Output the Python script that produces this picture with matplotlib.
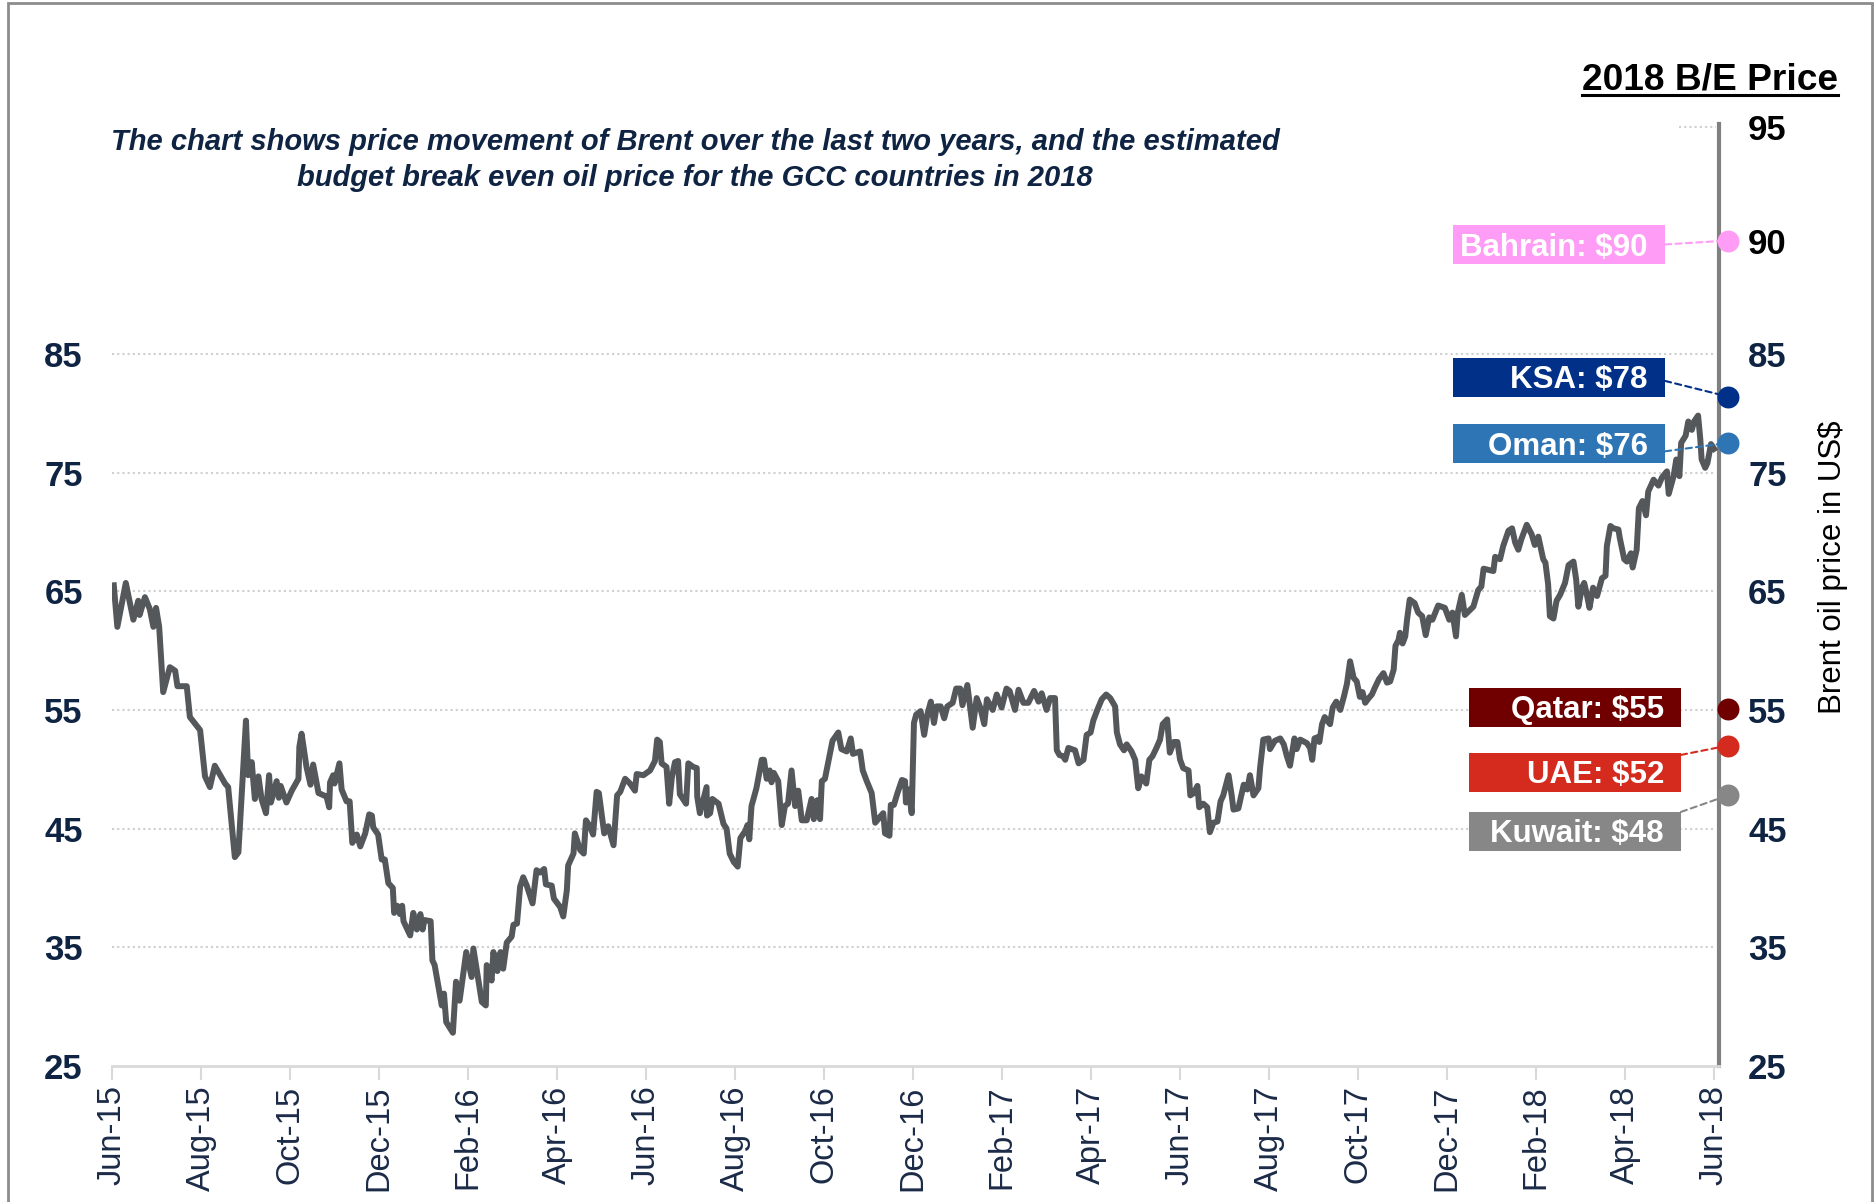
import numpy as np
import matplotlib
matplotlib.use('Agg')
import matplotlib.pyplot as plt
import matplotlib.transforms as mtransforms
from matplotlib.patches import Rectangle, ConnectionPatch
from matplotlib.lines import Line2D

plt.rcParams['font.family'] = ['Liberation Sans', 'DejaVu Sans']

# Brent price, x = months since 1 Jun 2015
month_pos = [
    0.04, 0.12, 0.31, 0.48, 0.59, 0.62, 0.74, 0.85, 0.93, 0.99, 1.06, 1.15, 1.30, 1.42, 1.47,
    1.68, 1.75, 1.98, 2.09, 2.20, 2.31, 2.54, 2.61, 2.76, 2.84, 3.01, 3.06, 3.14, 3.21, 3.29,
    3.36, 3.46, 3.53, 3.57, 3.70, 3.75, 3.79, 3.92, 4.04, 4.19, 4.21, 4.26, 4.37, 4.46, 4.52,
    4.64, 4.82, 4.88, 4.90, 4.97, 5.00, 5.11, 5.16, 5.27, 5.34, 5.40, 5.50, 5.58, 5.69, 5.78,
    5.84, 5.87, 5.98, 6.06, 6.13, 6.21, 6.31, 6.34, 6.41, 6.47, 6.52, 6.55, 6.70, 6.77, 6.85,
    6.93, 6.98, 7.02, 7.16, 7.20, 7.25, 7.41, 7.46, 7.51, 7.66, 7.73, 7.81,
    7.96, 8.08, 8.12, 8.31, 8.40, 8.42, 8.53, 8.57, 8.66, 8.73, 8.79, 8.87, 8.98, 9.02, 9.10,
    9.17, 9.24, 9.32, 9.45, 9.54, 9.62, 9.71, 9.75, 9.88, 9.93, 10.07, 10.14, 10.22, 10.25, 10.37,
    10.40, 10.52, 10.60, 10.65, 10.74, 10.81, 10.89, 10.94, 11.06, 11.15, 11.27, 11.35, 11.42, 11.53, 11.64,
    11.75, 11.79, 11.94, 12.09, 12.20, 12.25, 12.31, 12.35, 12.46, 12.52, 12.58, 12.65, 12.72, 12.76, 12.90,
    12.95, 13.06, 13.14, 13.15, 13.21, 13.36, 13.37, 13.44, 13.49, 13.63, 13.74, 13.81, 13.88, 13.97, 14.06,
    14.12, 14.23, 14.28, 14.32, 14.37, 14.48, 14.60, 14.65, 14.71, 14.78, 14.82, 14.87, 14.97, 15.05, 15.12,
    15.19, 15.27, 15.35, 15.42, 15.50, 15.61, 15.72, 15.77, 15.85, 15.91,
    15.95, 16.02, 16.10, 16.19, 16.32, 16.39, 16.51, 16.60, 16.65, 16.81, 16.87, 16.96, 17.07, 17.15, 17.26,
    17.33, 17.37, 17.47, 17.50, 17.57, 17.65, 17.75, 17.82, 17.84, 17.90, 17.97, 18.02, 18.07, 18.17, 18.25,
    18.32, 18.40, 18.47, 18.53, 18.62, 18.70, 18.77, 18.89, 18.97, 19.06, 19.11, 19.22, 19.28, 19.34, 19.43,
    19.51, 19.60, 19.66, 19.79, 19.88, 19.99, 20.10, 20.17, 20.29, 20.37, 20.48, 20.59, 20.72, 20.82, 20.89,
    21.00, 21.08, 21.19, 21.23, 21.29, 21.37, 21.42, 21.49, 21.64, 21.72, 21.83, 21.90, 21.99, 22.05, 22.14,
    22.24, 22.34, 22.43, 22.54, 22.58, 22.65, 22.74, 22.80, 22.91, 22.99, 23.06, 23.13, 23.24, 23.31, 23.38,
    23.47, 23.55, 23.61, 23.71, 23.77, 23.86, 23.94,
    24.00, 24.07, 24.19, 24.23, 24.31, 24.39, 24.43, 24.52, 24.61, 24.67, 24.75, 24.84, 24.91, 24.97, 25.09,
    25.16, 25.20, 25.31, 25.43, 25.51, 25.57, 25.65, 25.76, 25.80, 25.87, 25.99, 26.02, 26.13, 26.25, 26.33,
    26.40, 26.47, 26.57, 26.62, 26.70, 26.85, 26.92, 26.97, 27.02, 27.09, 27.13, 27.19, 27.25, 27.37, 27.43,
    27.51, 27.60, 27.68, 27.75, 27.82, 27.90, 27.97, 28.04, 28.10, 28.16, 28.24, 28.31, 28.38, 28.47, 28.57,
    28.65, 28.72, 28.80, 28.84, 28.91, 28.94, 29.00, 29.06, 29.10, 29.16, 29.27, 29.35,
    29.44, 29.52, 29.60, 29.67, 29.80, 29.95, 30.05, 30.12, 30.20, 30.24, 30.33, 30.40, 30.59, 30.70, 30.77,
    30.82, 30.93, 31.04, 31.08, 31.19, 31.26, 31.38, 31.46, 31.53, 31.60, 31.67, 31.79, 31.90, 31.97, 32.05,
    32.16, 32.21, 32.27, 32.31, 32.39, 32.46, 32.54, 32.65, 32.73, 32.84, 32.90, 32.95, 33.03, 33.08, 33.13,
    33.20, 33.28, 33.37, 33.48, 33.56, 33.59, 33.67, 33.74, 33.85, 33.88, 33.98, 34.04, 34.13, 34.17, 34.26,
    34.31, 34.39, 34.47, 34.52, 34.64, 34.75, 34.83, 34.94, 34.98, 35.09, 35.15, 35.22, 35.26, 35.36, 35.42,
    35.50, 35.55, 35.64, 35.69, 35.72, 35.80, 35.85, 35.93, 36.00,
]
brent = [
    65.5, 62.0, 65.7, 62.6, 64.2, 63.0, 64.5, 63.5, 62.0, 63.6, 62.0, 56.5, 58.6, 58.3, 57.0,
    57.0, 54.4, 53.3, 49.4, 48.5, 50.3, 48.8, 48.5, 42.6, 43.0, 54.1, 49.5, 50.6, 47.5, 49.4,
    47.5, 46.3, 49.5, 47.2, 49.0, 47.6, 48.6, 47.2, 48.2, 49.2, 51.9, 53.0, 50.2, 48.7, 50.4,
    48.0, 47.7, 46.8, 48.9, 49.5, 48.8, 50.5, 48.3, 47.3, 47.3, 43.8, 44.5, 43.5, 44.6, 46.2,
    46.1, 45.1, 44.5, 42.4, 42.4, 40.4, 40.0, 37.9, 38.5, 37.8, 38.5, 37.2, 36.0, 37.9, 36.5,
    37.8, 36.5, 37.3, 37.2, 33.9, 33.5, 30.1, 31.1, 28.7, 27.8, 32.1, 30.5,
    34.6, 32.5, 34.9, 30.4, 30.1, 33.5, 32.2, 34.6, 33.0, 34.6, 33.2, 35.4, 35.9, 36.9, 37.0,
    40.1, 40.9, 40.2, 38.7, 41.5, 41.3, 41.6, 40.3, 40.2, 39.1, 38.4, 37.6, 39.8, 41.9, 42.9,
    44.6, 43.2, 42.9, 45.7, 45.2, 44.5, 48.1, 48.0, 44.6, 45.2, 43.6, 47.8, 48.1, 49.2, 48.8,
    48.2, 49.6, 49.5, 49.9, 50.7, 52.5, 52.3, 50.5, 50.2, 47.1, 49.3, 50.6, 50.7, 47.9, 47.1,
    50.5, 50.2, 50.1, 47.7, 46.3, 48.5, 46.1, 46.3, 47.5, 47.1, 45.4, 45.0, 42.9, 42.2, 41.8,
    44.2, 44.8, 45.3, 44.1, 46.9, 48.4, 50.8, 50.8, 49.2, 49.9, 48.9, 49.7, 49.0, 45.3, 46.9,
    47.1, 49.9, 46.9, 48.2, 45.7, 45.7, 47.5, 45.8, 47.4, 45.8,
    49.0, 49.2, 50.7, 52.4, 53.1, 51.7, 51.5, 52.6, 51.3, 51.5, 49.9, 49.0, 48.0, 45.5, 46.0,
    46.3, 44.6, 44.4, 47.0, 47.0, 48.0, 49.1, 49.0, 47.2, 48.3, 46.3, 53.9, 54.6, 54.9, 52.9,
    54.6, 55.7, 53.9, 55.3, 55.3, 54.3, 55.3, 55.6, 56.8, 56.8, 55.4, 57.1, 55.3, 53.5, 56.0,
    55.2, 53.8, 55.9, 55.0, 56.3, 55.2, 56.8, 56.6, 55.0, 56.7, 55.6, 55.6, 56.6, 55.7, 56.4,
    55.0, 56.0, 56.0, 51.6, 51.2, 51.1, 50.8, 51.8, 51.6, 50.5, 50.8, 52.9, 53.1, 54.1, 55.0,
    55.9, 56.3, 56.0, 55.3, 53.1, 52.1, 51.6, 52.1, 51.5, 50.8, 48.4, 49.4, 48.8, 50.8, 51.1,
    51.8, 52.5, 53.8, 54.2, 51.4, 52.3, 52.3,
    50.8, 50.1, 49.9, 47.8, 48.0, 48.6, 46.8, 47.1, 46.8, 44.7, 45.5, 45.6, 47.3, 47.8, 49.5,
    47.8, 46.6, 46.7, 48.7, 48.3, 49.5, 47.8, 48.4, 50.2, 52.5, 52.6, 51.7, 52.4, 52.6, 52.1,
    51.1, 50.3, 52.6, 51.7, 52.5, 52.2, 51.8, 50.8, 52.6, 52.7, 52.3, 53.8, 54.4, 53.8, 55.2,
    55.7, 55.0, 56.1, 57.2, 59.1, 57.7, 57.4, 56.1, 56.5, 55.6, 56.0, 56.3, 56.9, 57.6, 58.1,
    57.3, 57.4, 58.4, 60.4, 60.9, 61.5, 60.6, 61.2, 62.6, 64.3, 64.0, 63.2,
    62.9, 61.3, 62.8, 62.6, 63.8, 63.6, 62.6, 63.2, 61.2, 63.2, 64.7, 63.0, 63.7, 65.1, 65.4,
    66.9, 66.8, 66.7, 67.9, 67.7, 68.8, 70.1, 70.3, 69.1, 68.5, 69.4, 70.6, 69.8, 68.9, 69.6,
    67.7, 67.4, 65.6, 62.9, 62.7, 64.2, 64.7, 65.7, 67.2, 67.5, 66.0, 63.7, 65.3, 65.7, 64.9,
    63.6, 65.3, 64.6, 66.1, 66.3, 68.8, 70.5, 70.3, 70.2, 69.5, 67.7, 67.5, 68.2, 67.0, 68.5,
    72.0, 72.6, 71.4, 73.4, 74.4, 73.9, 74.6, 75.1, 73.2, 74.7, 76.1, 74.7, 77.5, 78.1, 79.3,
    78.6, 79.3, 79.8, 77.8, 76.1, 75.4, 75.8, 77.4, 77.0,
]

tick_pos = list(range(0, 37, 2))
tick_labels = ['Jun-15', 'Aug-15', 'Oct-15', 'Dec-15', 'Feb-16', 'Apr-16', 'Jun-16',
               'Aug-16', 'Oct-16', 'Dec-16', 'Feb-17', 'Apr-17', 'Jun-17', 'Aug-17',
               'Oct-17', 'Dec-17', 'Feb-18', 'Apr-18', 'Jun-18']

left_ticks = [25, 35, 45, 55, 65, 75, 85]
right_ticks = [25, 35, 45, 55, 65, 75, 85, 90, 95]

countries = ['Bahrain', 'KSA', 'Oman', 'Qatar', 'UAE', 'Kuwait']
be_price = [90, 78, 76, 55, 52, 48]
marker_level = [90, 81.4, 77.5, 55.1, 52.0, 47.8]   # where the dots sit on the axis
be_colors = ['#ff9cf5', '#003087', '#2e75b6', '#700000', '#d52b1e', '#878787']

NAVY = '#0f2342'

# the axis is stretched above 85 (break-even section)
K = 1.91
def fwd(v):
    v = np.asarray(v, float)
    return np.where(v <= 85, v, 85 + (v - 85) * K)

def inv(v):
    v = np.asarray(v, float)
    return np.where(v <= 85, v, 85 + (v - 85) / K)

W, H = 1875, 1202
fig = plt.figure(figsize=(W / 100, H / 100), dpi=100)
ax = fig.add_axes([112 / W, 1 - 1066 / H, 1607 / W, 942 / H])

ax.set_yscale('function', functions=(fwd, inv))
ax.set_xlim(0, 36.11)
ax.set_ylim(25, 95.14)

ax.hlines(left_ticks[1:], 0, 36, colors='#cfcfcf', linestyles=(0, (1, 1.5)), lw=1.5, zorder=1)
ax.hlines([95], 35.2, 36.05, colors='#cfcfcf', linestyles=(0, (1, 1.5)), lw=1.5, zorder=1)

ax.plot(month_pos, brent, color='#54585b', lw=4.3, solid_joinstyle='round', zorder=3)

for s in ['top', 'left']:
    ax.spines[s].set_visible(False)
ax.spines['right'].set_color('#808080')
ax.spines['right'].set_linewidth(3)
ax.spines['bottom'].set_color('#d9d9d9')
ax.spines['bottom'].set_linewidth(2)

ax.set_xticks(tick_pos)
ax.set_xticklabels(tick_labels, rotation=90, fontsize=23.5, color='#1b2a47')
ax.tick_params(axis='x', length=10, width=1.5, color='#d9d9d9', pad=4)

ax.yaxis.set_minor_locator(plt.NullLocator())
ax.set_yticks(left_ticks)
ax.set_yticklabels([str(t) for t in left_ticks], fontsize=25, fontweight='bold', color=NAVY)
ax.tick_params(axis='y', which='both', length=0, pad=21, right=False)

ax2 = ax.twinx()
ax2.set_yscale('function', functions=(fwd, inv))
ax2.set_ylim(ax.get_ylim())
ax2.yaxis.set_minor_locator(plt.NullLocator())
ax2.set_yticks(right_ticks)
ax2.set_yticklabels([str(t) for t in right_ticks], fontsize=25, fontweight='bold')
for lab, t in zip(ax2.get_yticklabels(), right_ticks):
    lab.set_color('black' if t > 85 else NAVY)
ax2.tick_params(axis='y', which='both', length=0, pad=21)
for s in ax2.spines.values():
    s.set_visible(False)

# break-even markers and labels
trans = mtransforms.blended_transform_factory(ax.transAxes, ax.transData)
dot_x = 1.0056
box_left = [0.8345, 0.8345, 0.8345, 0.8444, 0.8444, 0.8444]
box_yc = [0.8721, 0.7314, 0.6608, 0.3806, 0.3116, 0.2490]
link_frac = [0.5, 0.4, 0.3, None, 0.95, 1.0]
box_w, box_h = 0.1319, 0.0414

for name, val, lvl, col, bl, yc, lf in zip(countries, be_price, marker_level, be_colors,
                                          box_left, box_yc, link_frac):
    ax2.add_patch(Rectangle((bl, yc - box_h / 2), box_w, box_h, transform=ax.transAxes,
                            facecolor=col, edgecolor='none', clip_on=False, zorder=4))
    ax2.text(bl + box_w - 0.0106, yc - 0.0117, f'{name}: ${val}', transform=ax.transAxes,
             ha='right', va='baseline', color='white', fontsize=22.5, fontweight='bold',
             zorder=5, clip_on=False)
    if lf is not None:
        con = ConnectionPatch(xyA=(bl + box_w, yc - box_h / 2 + lf * box_h), coordsA=ax.transAxes,
                              xyB=(dot_x, lvl), coordsB=trans, color=col, lw=1.5,
                              linestyle=(0, (3, 2)), zorder=4)
        ax2.add_artist(con)
    ax2.plot([dot_x], [lvl], 'o', ms=15.8, color=col, mec='none', transform=trans,
             clip_on=False, zorder=6)

fig.text(1833 / W, 1 - 567 / H, 'Brent oil price in US$', rotation=90, ha='center',
         va='center', fontsize=22.5, color='black')

fig.text(695 / W, 1 - 149.5 / H,
         'The chart shows price movement of Brent over the last two years, and the estimated',
         ha='center', va='baseline', fontsize=21, fontweight='bold', fontstyle='italic', color=NAVY)
fig.text(695 / W, 1 - 185.5 / H,
         'budget break even oil price for the GCC countries in 2018',
         ha='center', va='baseline', fontsize=21, fontweight='bold', fontstyle='italic', color=NAVY)

title = fig.text(1838 / W, 1 - 89 / H, '2018 B/E Price', ha='right', va='baseline',
                 fontsize=26.7, fontweight='bold', color='black')
fig.canvas.draw()
bb = title.get_window_extent()
fig.add_artist(Line2D([bb.x0 / W, bb.x1 / W], [1 - 95 / H, 1 - 95 / H],
                      transform=fig.transFigure, color='black', lw=2.2))

# outer frame
fig.add_artist(Rectangle((8 / W, -0.05), 1864 / W, 1.05 - 3 / H, transform=fig.transFigure,
                         fill=False, edgecolor='#8c8c8c', lw=2))

fig.savefig('out.png', dpi=100)
